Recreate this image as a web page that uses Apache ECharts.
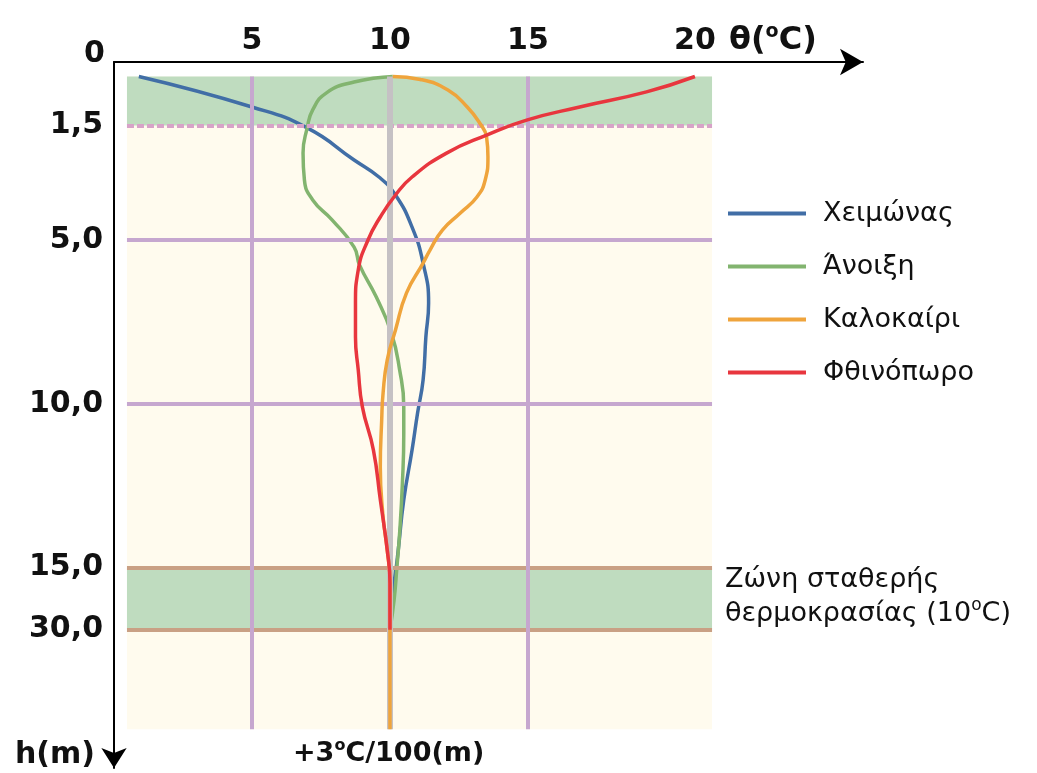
<!DOCTYPE html>
<html>
<head>
<meta charset="utf-8">
<title>Θερμοκρασία εδάφους ανά εποχή</title>
<script src="https://cdn.jsdelivr.net/npm/echarts@6/dist/echarts.min.js"></script>
<style>
  html, body { margin: 0; padding: 0; background: #ffffff; }
  #chart { width: 1037px; height: 773px; }
</style>
</head>
<body>
<div id="chart"></div>
<script>
// θερμοκρασία (°C) και βάθος (m) κάθε εποχής, διαβασμένα από το σχήμα
const winterTemp  = [0.9, 5.0, 7.0, 8.7, 9.6, 10.2, 10.8, 11.2, 11.4, 11.3, 11.2, 11.0, 10.8, 10.5, 10.3, 10.2, 10.05, 10.0];
const winterDepth = [0, 0.93, 1.57, 2.55, 3.07, 3.62, 4.6, 5.7, 6.92, 7.96, 9.27, 10.28, 11.41, 12.93, 14.46, 16.3, 22.8, 30];

const springTemp  = [10.1, 8.7, 7.7, 7.2, 7.0, 6.85, 6.9, 7.2, 7.9, 8.7, 8.9, 9.5, 10.05, 10.35, 10.5, 10.5, 10.45, 10.35, 10.25, 10.15, 10.0];
const springDepth = [0, 0.17, 0.5, 1.02, 1.57, 2.34, 3.16, 3.77, 4.38, 5.21, 5.76, 6.73, 7.83, 8.96, 10.09, 10.89, 12.42, 13.94, 15.0, 22.8, 30];

const summerTemp  = [10.1, 11.1, 12.1, 12.8, 13.25, 13.5, 13.55, 13.45, 13.15, 12.55, 11.9, 11.45, 11.2, 10.6, 10.2, 9.9, 9.75, 9.7, 9.65, 9.75, 9.9, 10.0, 10.0, 10.0, 10.0];
const summerDepth = [0, 0.09, 0.41, 0.93, 1.42, 1.85, 2.46, 3.16, 3.68, 4.17, 4.69, 5.3, 5.7, 6.61, 7.74, 8.66, 9.67, 10.49, 11.93, 13.45, 14.46, 18.7, 27.0, 30, 100];

const autumnTemp  = [20.0, 18.55, 16.55, 14.95, 13.5, 12.05, 10.8, 10.2, 9.65, 9.2, 8.85, 8.75, 8.75, 8.85, 9.0, 9.4, 9.65, 9.9, 10.0, 10.0, 10.0];
const autumnDepth = [0, 0.47, 0.93, 1.33, 1.79, 2.34, 3.07, 3.62, 4.29, 5.0, 5.91, 6.92, 7.96, 8.96, 10.09, 11.41, 12.93, 14.46, 18.7, 27.0, 30];

const seasonNames = ['Χειμώνας', 'Άνοιξη', 'Καλοκαίρι', 'Φθινόπωρο'];

const tempTicks = [5, 10, 15, 20];
const tempTickLabels = ['5', '10', '15', '20'];
const depthTicks = [1.5, 5, 10, 15, 30];
const depthTickLabels = ['1,5', '5,0', '10,0', '15,0', '30,0'];
const depthBottom = 100;

// ο άξονας του σχήματος δεν είναι γραμμικός: 15-30 m συμπιεσμένα, >15 °C πιο αραιά
function ty(d) {
  if (d <= 15) return d;
  if (d <= 30) return 15 + (d - 15) * 0.12625;
  return 16.894 + (d - 30) * 0.04343;
}
function tx(t) {
  return t <= 15 ? t : 15 + (t - 15) * 1.21;
}
function pairs(temp, depth) {
  return temp.map((t, i) => [tx(t), ty(depth[i])]);
}

const FONT = '"DejaVu Sans", "Liberation Sans", sans-serif';
const X0 = 0.47, X1 = 21.67; // όρια του πλαισίου (μονάδες άξονα)

const xLabelValues = tempTicks.map(tx);
const yLabelValues = depthTicks.map(ty);

const lav = '#c6a7cf';
const gridLines = [
  [{ coord: [X0, ty(1.5)], lineStyle: { color: '#d7a2c8', width: 4, type: [7, 3] } }, { coord: [X1, ty(1.5)] }],
  [{ coord: [X0, ty(5)], lineStyle: { color: lav, width: 4, type: 'solid' } }, { coord: [X1, ty(5)] }],
  [{ coord: [X0, ty(10)], lineStyle: { color: lav, width: 4, type: 'solid' } }, { coord: [X1, ty(10)] }],
  [{ coord: [X0, ty(15)], lineStyle: { color: '#c9a084', width: 4, type: 'solid' } }, { coord: [X1, ty(15)] }],
  [{ coord: [X0, ty(30)], lineStyle: { color: '#c9a084', width: 4, type: 'solid' } }, { coord: [X1, ty(30)] }],
  [{ coord: [tx(5), ty(0)], lineStyle: { color: lav, width: 4, type: 'solid' } }, { coord: [tx(5), ty(depthBottom)] }],
  [{ coord: [tx(10), ty(0)], lineStyle: { color: '#c5c1c4', width: 6, type: 'solid' } }, { coord: [tx(10), ty(depthBottom)] }],
  [{ coord: [tx(15), ty(0)], lineStyle: { color: lav, width: 4, type: 'solid' } }, { coord: [tx(15), ty(depthBottom)] }]
];

const seasonColors = ['#416ea6', '#82b46f', '#efa43c', '#e8363e'];
const seasonData = [
  pairs(winterTemp, winterDepth),
  pairs(springTemp, springDepth),
  pairs(summerTemp, summerDepth),
  pairs(autumnTemp, autumnDepth)
];

const chart = echarts.init(document.getElementById('chart'));

const boldRich = size => ({
  a: { fontSize: size, fontWeight: 'bold', fontFamily: FONT, lineHeight: size + 4 },
  s: { fontSize: Math.round(size * 0.6), fontWeight: 'bold', fontFamily: FONT, verticalAlign: 'top', lineHeight: Math.round(size * 0.75) }
});

const option = {
  animation: false,
  backgroundColor: '#ffffff',
  grid: { left: 114, top: 62, right: 174, bottom: 5, outerBoundsMode: 'none' },
  xAxis: {
    type: 'value',
    position: 'top',
    min: 0,
    max: 27.14,
    axisLine: {
      show: true, onZero: false,
      symbol: ['none', 'arrow'], symbolSize: [20, 23],
      lineStyle: { color: '#000', width: 2 }
    },
    axisTick: { show: false },
    splitLine: { show: false },
    axisLabel: {
      customValues: xLabelValues,
      margin: 6,
      fontSize: 30, fontWeight: 'bold', fontFamily: FONT, color: '#111',
      formatter: v => tempTickLabels[xLabelValues.findIndex(c => Math.abs(c - v) < 1e-6)] || ''
    }
  },
  yAxis: {
    type: 'value',
    inverse: true,
    min: -0.443,
    max: 21.12,
    axisLine: {
      show: true, onZero: false,
      symbol: ['arrow', 'none'], symbolSize: [19, 20],
      lineStyle: { color: '#000', width: 2 }
    },
    axisTick: { show: false },
    splitLine: { show: false },
    axisLabel: {
      customValues: yLabelValues,
      margin: 11,
      fontSize: 30, fontWeight: 'bold', fontFamily: FONT, color: '#111',
      formatter: v => depthTickLabels[yLabelValues.findIndex(c => Math.abs(c - v) < 1e-6)] || ''
    }
  },
  legend: {
    orient: 'vertical',
    left: 728,
    top: 196,
    padding: 0,
    data: seasonNames,
    icon: 'rect',
    itemWidth: 78,
    itemHeight: 4,
    itemGap: 18,
    selectedMode: false,
    textStyle: { fontSize: 27, color: '#111', fontFamily: FONT, lineHeight: 31, padding: [4, 0, 0, 12] }
  },
  graphic: [
    { type: 'text', left: 84, top: 39, style: { text: '0', font: 'bold 30px ' + FONT, fill: '#111' } },
    {
      type: 'text', left: 729, top: 23,
      style: { text: '{a|θ(}{s|o}{a|C)}', fill: '#111', rich: boldRich(32) }
    },
    { type: 'text', left: 15, top: 740, style: { text: 'h(m)', font: 'bold 30px ' + FONT, fill: '#111' } },
    {
      type: 'text', left: 293, top: 738,
      style: { text: '{a|+3}{s|o}{a|C/100(m)}', fill: '#111', rich: boldRich(27) }
    },
    { type: 'text', left: 725, top: 566, style: { text: 'Ζώνη σταθερής', font: '27px ' + FONT, fill: '#111' } },
    {
      type: 'text', left: 725, top: 597,
      style: {
        text: '{a|θερμοκρασίας (10}{s|o}{a|C)}', fill: '#111',
        rich: {
          a: { fontSize: 27, fontFamily: FONT, lineHeight: 33 },
          s: { fontSize: 17, fontFamily: FONT, verticalAlign: 'top', lineHeight: 22 }
        }
      }
    }
  ],
  series: [
    {
      type: 'line', data: [], z: 1, silent: true,
      markArea: {
        silent: true,
        label: { show: false },
        data: [
          [{ coord: [X0, ty(0)], itemStyle: { color: '#fffbee' } }, { coord: [X1, ty(depthBottom)] }],
          [{ coord: [X0, ty(0)], itemStyle: { color: '#bfdcbf' } }, { coord: [X1, ty(1.5)] }],
          [{ coord: [X0, ty(15)], itemStyle: { color: '#bfdcbf' } }, { coord: [X1, ty(30)] }]
        ]
      }
    },
    {
      type: 'line', data: [], z: 2, silent: true,
      markLine: {
        silent: true,
        symbol: ['none', 'none'],
        label: { show: false },
        data: gridLines
      }
    }
  ].concat(seasonNames.map((name, i) => ({
    name: name,
    type: 'line',
    data: seasonData[i],
    smooth: 0.5,
    symbol: 'none',
    z: 3 + i,
    color: seasonColors[i],
    lineStyle: { color: seasonColors[i], width: 3.5 }
  })))
};

chart.setOption(option);
window.addEventListener('resize', () => chart.resize());
</script>
</body>
</html>
